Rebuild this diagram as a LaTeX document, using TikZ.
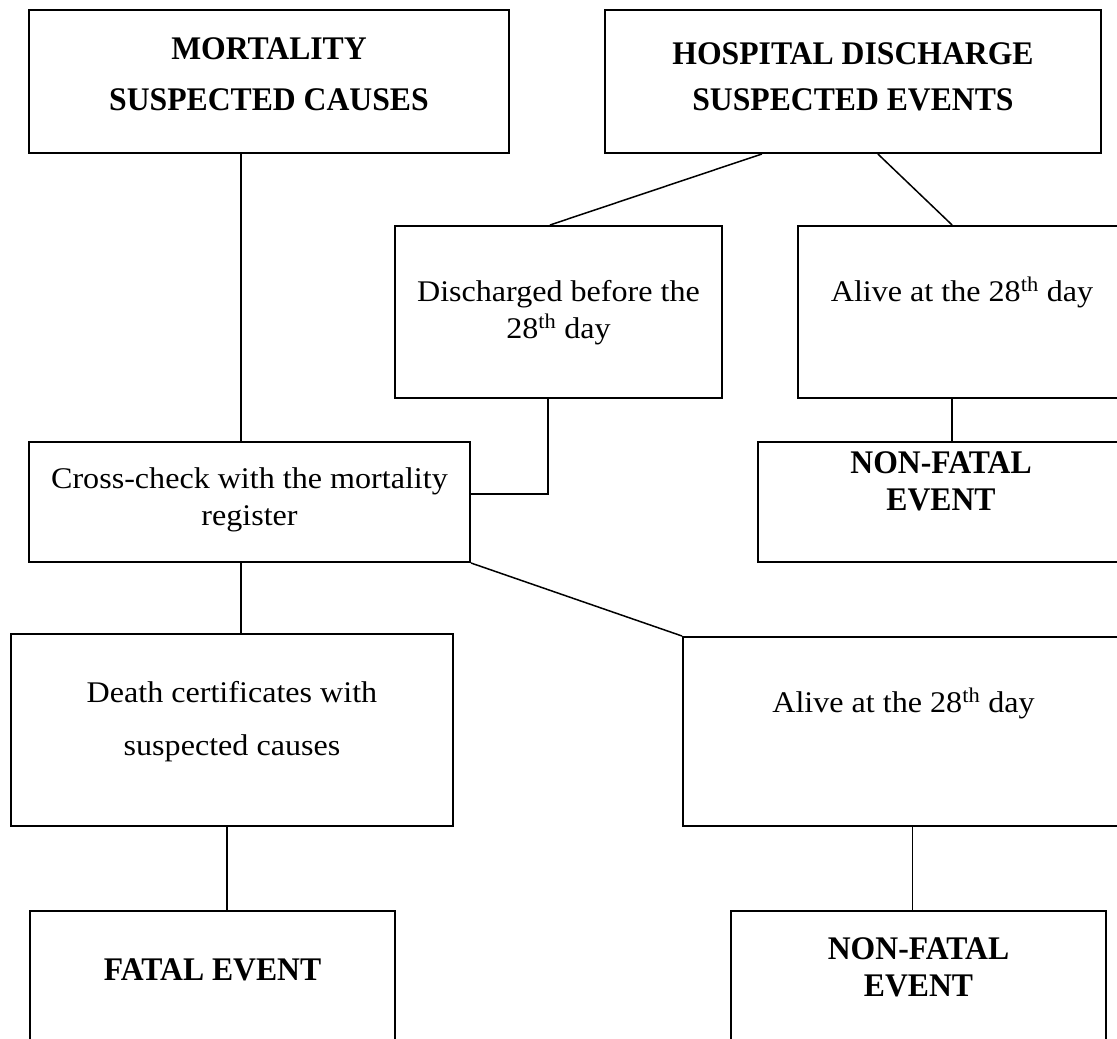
\documentclass[tikz,border=0pt]{standalone}
\usepackage{fontspec}
\setmainfont{Liberation Serif}
\newfontfamily\regfont{Liberation Serif}[FakeStretch=1.07]
\newfontfamily\bldfont{Liberation Serif}[FakeStretch=0.96]
\usetikzlibrary{calc}
\tikzset{
  box/.style={draw=black, line width=2pt, rectangle, inner sep=0pt},
  conn/.style={draw=black, line width=1.5pt},
  reg/.style={anchor=base, inner sep=0pt, font=\regfont\fontsize{30}{36}\selectfont},
  bld/.style={anchor=base, inner sep=0pt, font=\bldfont\bfseries\fontsize{33}{38}\selectfont},
}
\begin{document}
\begin{tikzpicture}[x=1pt, y=-1pt]
\useasboundingbox (0,0) rectangle (1117,1039);
\fill[white] (0,0) rectangle (1117,1039);
\clip (0,0) rectangle (1117,1039);

% boxes
\node[box, minimum width=480pt, minimum height=143pt] (mort) at (269,81.5) {};
\node[box, minimum width=496pt, minimum height=143pt] (hosp) at (853,81.5) {};
\node[box, minimum width=327pt, minimum height=172pt] (disch) at (558.5,312) {};
\node[box, minimum width=328pt, minimum height=172pt] (alive1) at (962,312) {};
\node[box, minimum width=366pt, minimum height=120pt] (nf1) at (941,502) {};
\node[box, minimum width=441pt, minimum height=120pt] (cross) at (249.5,502) {};
\node[box, minimum width=442pt, minimum height=192pt] (death) at (232,730) {};
\node[box, minimum width=441pt, minimum height=189pt] (alive2) at (903.5,731.5) {};
\node[box, minimum width=365pt, minimum height=139pt] (fatal) at (212.5,980.5) {};
\node[box, minimum width=375pt, minimum height=139pt] (nf2) at (918.5,980.5) {};

% texts
\node[bld] (mortA) at (269,59) {MORTALITY};
\node[bld] (mortB) at (269,110) {SUSPECTED CAUSES};
\node[bld] (hospA) at (853,64) {HOSPITAL DISCHARGE};
\node[bld] (hospB) at (853,110) {SUSPECTED EVENTS};
\node[reg] (dischA) at (558.5,301) {Discharged before the};
\node[reg] (dischB) at (558.5,338) {28\textsuperscript{th} day};
\node[reg] (alive1A) at (962,301) {Alive at the 28\textsuperscript{th} day};
\node[bld] (nf1A) at (941,473) {NON-FATAL};
\node[bld] (nf1B) at (941,510) {EVENT};
\node[reg] (crossA) at (249.5,488) {Cross-check with the mortality};
\node[reg] (crossB) at (249.5,525) {register};
\node[reg] (deathA) at (232,702) {Death certificates with};
\node[reg] (deathB) at (232,755) {suspected causes};
\node[reg] (alive2A) at (903.5,712) {Alive at the 28\textsuperscript{th} day};
\node[bld] (fatalA) at (212.5,980) {FATAL EVENT};
\node[bld] (nf2A) at (918.5,959) {NON-FATAL};
\node[bld] (nf2B) at (918.5,996) {EVENT};

% connector points
\coordinate (m1) at ($(mort.south west)!0.442!(mort.south east)$);
\coordinate (h1) at ($(hosp.south west)!0.317!(hosp.south east)$);
\coordinate (h2) at ($(hosp.south west)!0.55!(hosp.south east)$);
\coordinate (d1) at ($(disch.north west)!0.474!(disch.north east)$);
\coordinate (a1) at ($(alive1.north west)!0.47!(alive1.north east)$);
\coordinate (a1b) at ($(alive1.south west)!0.47!(alive1.south east)$);
\coordinate (d2) at ($(disch.south west)!0.468!(disch.south east)$);
\coordinate (ce) at ($(cross.north east)!0.433!(cross.south east)$);
\coordinate (cb) at ($(cross.south west)!0.481!(cross.south east)$);
\coordinate (db) at ($(death.south west)!0.489!(death.south east)$);
\coordinate (a2b) at ($(alive2.south west)!0.52!(alive2.south east)$);

% connectors
\draw[conn] (m1) -- (m1 |- cross.north);
\draw[conn] (h1) -- (d1);
\draw[conn] (h2) -- (a1);
\draw[conn] (a1b) -- (a1b |- nf1.north);
\draw[conn] (d2) |- (ce);
\draw[conn] (cross.south east) -- (alive2.north west);
\draw[conn] (cb) -- (cb |- death.north);
\draw[conn] (db) -- (db |- fatal.north);
\draw[conn] (a2b) -- (a2b |- nf2.north);
\end{tikzpicture}
\end{document}
